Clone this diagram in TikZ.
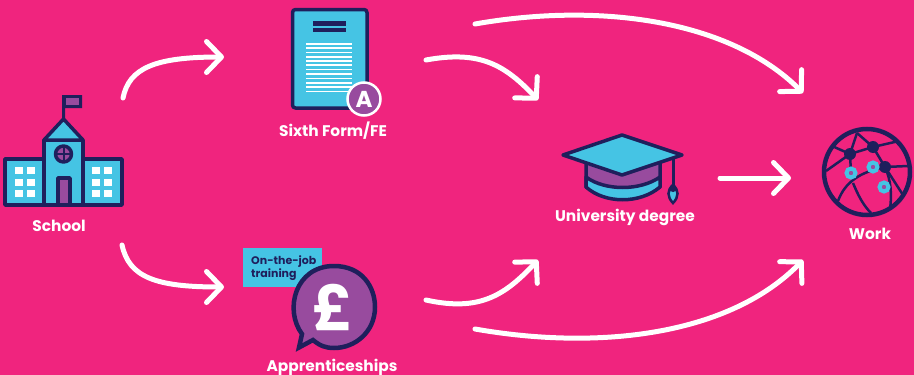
\documentclass[tikz,border=0pt]{standalone}
\usepackage{fontspec}
\setmainfont{Poppins}
\usetikzlibrary{arrows.meta}
\usetikzlibrary{positioning}
\definecolor{bgpink}{HTML}{F0247E}
\definecolor{navy}{HTML}{1F1F5C}
\definecolor{skyb}{HTML}{45C4E4}
\definecolor{plum}{HTML}{984B9E}
\tikzset{
	flow/.style={
		draw=white,
		line width=5pt,
		line cap=round,
		-{Straight Barb[length=15pt,width=31pt,round]}},
	caption/.style={
		text=white,
		font=\fontsize{15.4}{15.4}\selectfont\bfseries,
		inner sep=0pt},
	outline/.style={
		draw=navy,
		line width=3.5pt,
		line join=round},
	wire/.style={
		draw=navy,
		line width=2.5pt},
	hub/.style={fill=navy},
	ring/.style={
		draw=skyb,
		line width=4pt,
		fill=plum}
}

\begin{document}
\begin{tikzpicture}[x=1pt,y=-1pt]
	\useasboundingbox (0,0) rectangle (914,375);
	\fill[bgpink] (0,0) rectangle (914,375);

	% school
	\fill[navy] (62,119) -- (62,95) -- (82,95) -- (82,108) -- (65,108) -- (65,119) -- cycle;
	\fill[plum] (65.5,98) rectangle (78.5,105);
	\draw[outline,fill=skyb] (5,159) rectangle (44,205);
	\draw[outline,fill=skyb] (83,159) rectangle (122,205);
	\draw[outline,fill=skyb] (44,140) rectangle (83,205);
	\draw[outline,fill=skyb] (44,140) -- (63.5,119) -- (83,140) -- cycle;
	\foreach \wx in {15,27,92,104}
		\foreach \wy in {167,178.5,190}
			\fill[white] (\wx,\wy) rectangle +(8,7);
	\draw[outline,fill=plum] (63.5,154) circle (8pt);
	\draw[navy,line width=2pt] (57,154) -- (70,154) (63.5,147.5) -- (63.5,160.5);
	\draw[outline,fill=plum] (58,178) rectangle (70,205);

	% document
	\draw[outline,fill=skyb,rounded corners=3pt] (292.5,9.5) rectangle (367,108);
	\fill[navy] (313,21) rectangle (346,26);
	\fill[navy] (313,27.5) rectangle (346,32);
	\foreach \ly in {43,47.3,51.6,55.9,60,64.3,68.6,73,77.5,81.8,86.2,90.5}
		\fill[white] (306,\ly) rectangle (352,\ly+1.8);
	\node[circle,draw=white,fill=plum,line width=2.5pt,minimum size=33pt,inner sep=0pt,text=white,font=\fontsize{23}{23}\selectfont\bfseries] (badge) at (364,99) {A};

	% speech bubble with tag
	\fill[skyb] (243,248) rectangle (322,287);
	\draw[navy,line width=4.5pt,fill=plum,line join=miter]
		(302,334) .. controls (284,310) and (295,266) .. (334,266)
		.. controls (362,266) and (375,287) .. (375,307)
		.. controls (375,332) and (355,348) .. (334,348)
		.. controls (326,348) and (320,346) .. (313,340)
		-- (299,347.5) -- cycle;
	\node[text=white,inner sep=0pt,font=\fontsize{62}{62}\selectfont\bfseries] (pound) at (333,307) {£};
	\node[text=navy,inner sep=0pt,align=left,anchor=north west,font=\fontsize{11}{13.5}\selectfont\bfseries] (tag) at (251,255) {On-the-job\\training};

	% mortarboard
	\draw[outline,fill=plum] (586,160) -- (586,187) .. controls (605,196) and (640,196) .. (660,187) -- (660,160) -- cycle;
	\draw[outline,fill=skyb] (586,177) .. controls (605,191) and (640,191) .. (660,177) -- (660,187) .. controls (640,204) and (605,204) .. (586,187) -- cycle;
	\draw[outline,fill=skyb] (622,135) -- (682,155) -- (622,175) -- (563,155) -- cycle;
	\draw[navy,line width=3pt] (673,158) -- (673,187);
	\draw[navy,line width=2.5pt,fill=skyb] (673,185) .. controls (667,190) and (667,197) .. (673,203) .. controls (679,197) and (679,190) .. (673,185) -- cycle;
	\fill[navy] (673,185) .. controls (668,189) and (668,191) .. (673,192) .. controls (678,191) and (678,189) .. (673,185) -- cycle;

	% globe
	\draw[wire] (857,133) -- (850,154) -- (851,173);
	\draw[wire] (857,133) -- (873,147) -- (885,167) .. controls (891,180) and (892,195) .. (890,209);
	\draw[wire] (832,146) -- (850,154) -- (873,147) -- (899,141);
	\draw[wire] (850,154) -- (826,171);
	\draw[wire] (885,167) -- (908,166);
	\draw[wire] (885,167) .. controls (860,172) and (845,182) .. (838,201);
	\draw[wire] (853,183) .. controls (858,195) and (863,205) .. (871,213);
	\draw[wire] (885,167) -- (903,195);
	\draw[navy,line width=4.5pt] (867,172) circle (43pt);
	\fill[hub] (850,154) circle (6pt);
	\fill[hub] (873,147) circle (6pt);
	\fill[hub] (885,167) circle (6pt);
	\draw[ring] (851,173) circle (4.5pt);
	\draw[ring] (873,167) circle (4.5pt);
	\draw[ring] (884,187) circle (4.5pt);

	% captions
	\node[caption] (school) at (59,226) {School};
	\node[caption] (sixth) at (333,131) {Sixth Form/FE};
	\node[caption] (appr) at (332,367) {Apprenticeships};
	\node[caption] (uni) at (625,217) {University degree};
	\node[caption] (work) at (870,234) {Work};

	% arrow ends
	\coordinate (s1) at (123,98);
	\coordinate (s2) at (122,245);
	\coordinate (f1) at (224,57);
	\coordinate (f2) at (224,287);
	\coordinate (a1) at (475,24);
	\coordinate (a2) at (426,60);
	\coordinate (a3) at (426,300);
	\coordinate (a4) at (475,329);
	\coordinate (u1) at (538,100);
	\coordinate (u2) at (538,260);
	\coordinate (u3) at (720,178);
	\coordinate (w1) at (803,93);
	\coordinate (w2) at (803,260);
	\coordinate (w3) at (791,178);

	\draw[flow] (s1) .. controls (129,68) and (155,57) .. (f1);
	\draw[flow] (s2) .. controls (129,277) and (155,287) .. (f2);
	\draw[flow] (a1) .. controls (600,2) and (730,20) .. (w1);
	\draw[flow] (a2) .. controls (480,50) and (505,65) .. (u1);
	\draw[flow] (a3) .. controls (480,312) and (505,295) .. (u2);
	\draw[flow] (a4) .. controls (600,351) and (730,335) .. (w2);
	\draw[flow] (u3) -- (w3);
\end{tikzpicture}
\end{document}
